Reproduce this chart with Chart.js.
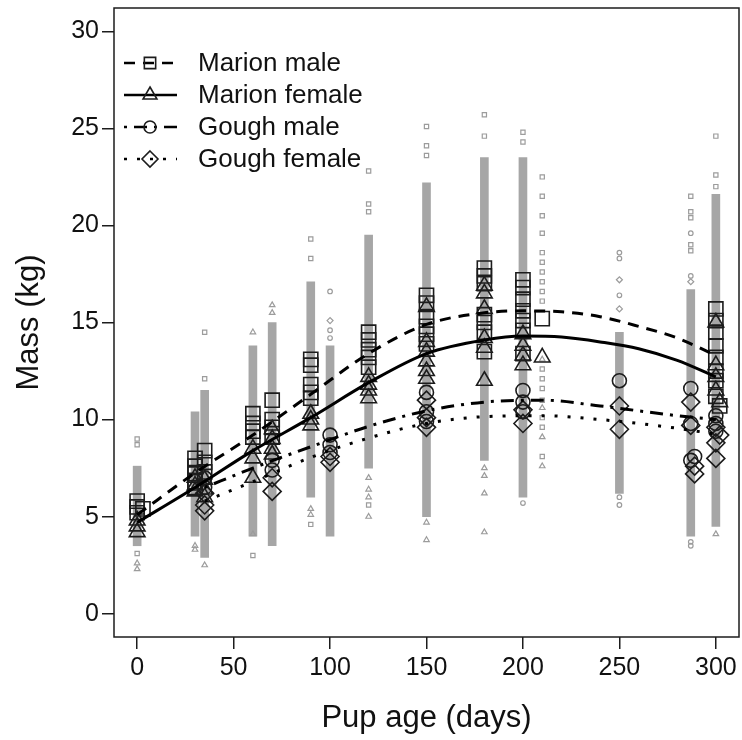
<!DOCTYPE html>
<html>
<head>
<meta charset="utf-8">
<script src="https://cdn.jsdelivr.net/npm/chart.js@4.4.1/dist/chart.umd.min.js"></script>
<style>
  html, body { margin: 0; padding: 0; background: #fff; }
  #wrap { width: 742px; height: 740px; }
</style>
</head>
<body>
<div id="wrap"><canvas id="massChart" width="742" height="740"></canvas></div>
<script>
// ---- values ----
const xTicks = [0, 50, 100, 150, 200, 250, 300];
const yTicks = [0, 5, 10, 15, 20, 25, 30];

// raw weighings: dense part of each age column (lowest / highest kg)
const rawAges = [0, 30, 35, 60, 70, 90, 100, 120, 150, 180, 200, 250, 287, 300];
const rawLow  = [3.5, 4.0, 2.9, 4.0, 3.5, 6.0, 4.0, 7.5, 5.0, 7.9, 6.0, 6.2, 4.0, 4.5];
const rawHigh = [7.6, 10.4, 11.5, 13.8, 15.0, 17.1, 13.8, 19.5, 22.2, 23.5, 23.5, 14.5, 16.7, 21.6];

// scattered raw weighings outside the dense part [age, kg]
const rawSquares = [[0, 9.0], [0, 8.7], [0, 3.1], [35, 14.5], [35, 12.1], [60, 3.0], [90, 19.3], [90, 18.3],
  [90, 4.6], [120, 22.8], [120, 21.1], [120, 20.7], [120, 5.6], [150, 25.1], [150, 24.1], [150, 23.6],
  [180, 25.7], [180, 24.6], [200, 24.8], [200, 24.3], [210, 22.5], [210, 21.5], [210, 20.5], [210, 19.6],
  [210, 18.6], [210, 18.1], [210, 17.6], [210, 17.1], [210, 16.6], [210, 16.1], [210, 12.6], [210, 12.1],
  [210, 11.6], [210, 11.0], [210, 10.1], [210, 9.6], [210, 8.1], [287, 21.5], [287, 20.7], [287, 20.4],
  [287, 19.0], [287, 18.7], [300, 24.6], [300, 22.6], [300, 22.0]];
const rawTriangles = [[0, 2.6], [0, 2.3], [30, 3.5], [30, 3.3], [35, 2.5], [60, 14.5], [60, 4.1], [70, 15.9],
  [70, 15.5], [90, 5.4], [90, 5.1], [120, 7.0], [120, 6.4], [120, 6.0], [120, 5.0], [150, 4.7], [150, 3.8],
  [180, 7.5], [180, 7.1], [180, 6.2], [180, 4.2], [210, 13.1], [210, 10.6], [210, 9.1], [210, 7.6], [300, 4.1]];
const rawCircles = [[100, 16.6], [100, 14.6], [100, 14.2], [200, 5.7], [250, 18.6], [250, 18.3], [250, 16.4],
  [250, 6.0], [250, 5.6], [287, 19.6], [287, 17.4], [287, 3.7], [287, 3.5]];
const rawDiamonds = [[100, 15.1], [250, 17.2], [250, 15.7], [287, 17.1]];

// cohort means [age, kg]
const marionMale = [[0, 5.8], [0, 5.5], [0, 5.2], [3, 5.4], [30, 8.0], [30, 7.6], [30, 7.2], [30, 6.8], [30, 6.5],
  [35, 8.4], [35, 7.8], [35, 7.3], [60, 10.3], [60, 9.8], [60, 9.4], [60, 9.1], [70, 11.0], [70, 10.0], [70, 9.6],
  [70, 9.1], [90, 13.1], [90, 12.8], [90, 11.8], [90, 11.4], [90, 11.1], [120, 14.5], [120, 14.1], [120, 13.6],
  [120, 13.2], [120, 12.7], [150, 16.4], [150, 16.0], [150, 15.3], [150, 14.8], [150, 14.4], [150, 13.9],
  [180, 17.8], [180, 17.4], [180, 17.0], [180, 15.4], [180, 15.0], [180, 14.5], [180, 13.5], [200, 17.2],
  [200, 16.8], [200, 16.2], [200, 15.6], [200, 15.1], [200, 14.6], [200, 13.4], [210, 15.2], [300, 15.7],
  [300, 15.1], [300, 14.5], [300, 13.8], [300, 13.2], [300, 12.5], [300, 12.0], [300, 11.2], [302, 10.7]];
const marionFemale = [[0, 4.8], [0, 4.5], [0, 4.2], [30, 7.0], [30, 6.6], [30, 6.3], [35, 6.9], [35, 6.4],
  [35, 6.0], [60, 8.5], [60, 8.0], [60, 7.0], [70, 9.5], [70, 9.0], [70, 8.5], [70, 8.2], [90, 10.3], [90, 10.0],
  [90, 9.7], [120, 12.2], [120, 11.8], [120, 11.5], [120, 11.1], [150, 15.8], [150, 14.0], [150, 13.5],
  [150, 13.0], [150, 12.5], [150, 12.1], [180, 16.9], [180, 16.5], [180, 15.7], [180, 14.2], [180, 13.7],
  [180, 12.0], [200, 14.4], [200, 13.8], [200, 13.3], [200, 12.8], [210, 13.2], [300, 15.0], [300, 12.8],
  [300, 12.2], [300, 11.5], [302, 10.9]];
const goughMale = [[35, 7.0], [35, 6.5], [70, 7.9], [70, 7.4], [100, 9.2], [100, 8.7], [100, 8.3], [150, 11.4],
  [150, 10.4], [150, 9.9], [200, 11.5], [200, 10.9], [200, 10.4], [250, 12.0], [287, 11.6], [287, 9.8],
  [289, 8.1], [287, 7.9], [300, 10.2], [300, 9.8], [300, 9.4]];
const goughFemale = [[35, 6.2], [35, 5.6], [35, 5.3], [70, 7.0], [70, 6.3], [100, 8.1], [100, 7.8], [150, 11.0],
  [150, 10.1], [150, 9.6], [200, 10.5], [200, 9.8], [250, 10.7], [250, 9.5], [287, 10.9], [287, 9.7],
  [289, 7.6], [289, 7.2], [300, 9.6], [300, 8.8], [300, 8.0], [302, 9.2]];

// fitted growth curves
const fitAgesMarion = [0, 30, 60, 90, 120, 150, 180, 200, 220, 240, 260, 280, 300];
const fitMarionMale = [5.1, 7.25, 9.2, 11.3, 13.4, 14.9, 15.5, 15.6, 15.55, 15.3, 14.8, 14.2, 13.3];
const fitMarionFemale = [4.7, 6.5, 8.4, 10.1, 11.9, 13.4, 14.1, 14.3, 14.25, 14.0, 13.65, 13.05, 12.2];
const fitAgesGough = [35, 60, 90, 120, 150, 180, 210, 240, 260, 280, 300];
const fitGoughMale = [6.5, 7.5, 8.6, 9.65, 10.45, 10.9, 11.0, 10.7, 10.45, 10.2, 10.0];
const fitGoughFemale = [5.8, 6.8, 8.05, 9.05, 9.8, 10.15, 10.2, 10.0, 9.8, 9.55, 9.25];

const FONT = '"Liberation Sans", Arial, Helvetica, sans-serif';
const INK = '#1c1c1c';
const GREY = '#9c9c9c';

const toPts = arr => arr.map(p => ({ x: p[0], y: p[1] }));
const curve = (ages, vals) => ages.map((a, i) => ({ x: a, y: vals[i] }));

const series = [
  { label: 'Marion male', style: 'rect', r: 10, dash: [11, 8], means: marionMale, ages: fitAgesMarion, fit: fitMarionMale },
  { label: 'Marion female', style: 'triangle', r: 9, dash: [], means: marionFemale, ages: fitAgesMarion, fit: fitMarionFemale },
  { label: 'Gough male', style: 'circle', r: 7, dash: [3, 7, 13, 7], means: goughMale, ages: fitAgesGough, fit: fitGoughMale },
  { label: 'Gough female', style: 'rectRot', r: 9, dash: [3, 10], means: goughFemale, ages: fitAgesGough, fit: fitGoughFemale }
];

function rawSet(pts, style, r) {
  return {
    type: 'scatter', data: toPts(pts), pointStyle: style, pointRadius: r,
    borderColor: GREY, backgroundColor: 'rgba(0,0,0,0)', borderWidth: 1.2, order: 4
  };
}

const datasets = [
  {
    type: 'bar',
    data: rawAges.map((a, i) => ({ x: a, y: [rawLow[i], rawHigh[i]] })),
    backgroundColor: '#a6a6a6', borderWidth: 0, barThickness: 8, order: 5
  },
  rawSet(rawSquares, 'rect', 3),
  rawSet(rawTriangles, 'triangle', 3.2),
  rawSet(rawCircles, 'circle', 2.3),
  rawSet(rawDiamonds, 'rectRot', 3)
];

series.forEach(s => {
  datasets.push({
    type: 'scatter', data: toPts(s.means), pointStyle: s.style, pointRadius: s.r,
    borderColor: INK, backgroundColor: 'rgba(0,0,0,0)', borderWidth: 1.6, order: 2
  });
  datasets.push({
    type: 'line', data: curve(s.ages, s.fit), showLine: true, pointRadius: 0,
    borderColor: '#000', borderWidth: 3, borderDash: s.dash, borderCapStyle: 'butt',
    cubicInterpolationMode: 'monotone', fill: false, order: 1
  });
});

function drawMarker(ctx, style, x, y, r) {
  ctx.beginPath();
  if (style === 'rect') {
    const s = r * Math.SQRT1_2;
    ctx.rect(x - s, y - s, 2 * s, 2 * s);
  } else if (style === 'triangle') {
    ctx.moveTo(x, y - r);
    ctx.lineTo(x + r * 0.866, y + r * 0.5);
    ctx.lineTo(x - r * 0.866, y + r * 0.5);
    ctx.closePath();
  } else if (style === 'circle') {
    ctx.arc(x, y, r, 0, Math.PI * 2);
  } else {
    ctx.moveTo(x, y - r);
    ctx.lineTo(x + r, y);
    ctx.lineTo(x, y + r);
    ctx.lineTo(x - r, y);
    ctx.closePath();
  }
  ctx.stroke();
}

const framePlugin = {
  id: 'frame',
  afterDatasetsDraw(chart) {
    const { ctx, chartArea: { left, top, right, bottom } } = chart;
    ctx.save();
    ctx.strokeStyle = INK;
    ctx.lineWidth = 1.5;
    ctx.strokeRect(left, top, right - left, bottom - top);
    ctx.restore();
  }
};

const legendPlugin = {
  id: 'rLegend',
  afterDraw(chart) {
    const ctx = chart.ctx;
    const rows = [63, 95, 127, 159];
    ctx.save();
    series.forEach((s, i) => {
      const y = rows[i];
      ctx.strokeStyle = '#000';
      ctx.lineWidth = 2.5;
      ctx.lineCap = 'butt';
      ctx.setLineDash(s.dash);
      ctx.beginPath();
      ctx.moveTo(124, y);
      ctx.lineTo(177, y);
      ctx.stroke();
      ctx.setLineDash([]);
      ctx.strokeStyle = INK;
      ctx.lineWidth = 1.6;
      drawMarker(ctx, s.style, 150, y, s.style === 'circle' ? 6 : 8);
      ctx.fillStyle = '#111';
      ctx.font = '26px ' + FONT;
      ctx.textBaseline = 'middle';
      ctx.fillText(s.label, 198, y + 1);
    });
    ctx.restore();
  }
};

const ctx = document.getElementById('massChart').getContext('2d');
new Chart(ctx, {
  type: 'scatter',
  data: { datasets: datasets },
  options: {
    responsive: false,
    animation: false,
    devicePixelRatio: 1,
    layout: { autoPadding: false, padding: { top: 8, right: 3, left: 0, bottom: 0 } },
    plugins: { legend: { display: false }, tooltip: { enabled: false } },
    scales: {
      x: {
        type: 'linear', min: -12, max: 312, offset: false,
        afterBuildTicks: s => { s.ticks = xTicks.map(v => ({ value: v })); },
        afterFit: s => { s.height = 103; s.paddingLeft = 0; s.paddingRight = 0; },
        grid: { drawOnChartArea: false, drawTicks: true, tickLength: 12, color: INK, lineWidth: 1.5, offset: false },
        border: { display: false },
        ticks: { font: { size: 25, family: FONT }, color: '#111', padding: 4, maxRotation: 0, autoSkip: false },
        title: { display: true, text: 'Pup age (days)', font: { size: 31, family: FONT }, color: '#111', padding: { top: 0, bottom: 3 } }
      },
      y: {
        type: 'linear', min: -1.2, max: 31.2,
        afterBuildTicks: s => { s.ticks = yTicks.map(v => ({ value: v })); },
        afterFit: s => { s.width = 114; s.paddingTop = 0; s.paddingBottom = 0; },
        grid: { drawOnChartArea: false, drawTicks: true, tickLength: 12, color: INK, lineWidth: 1.5 },
        border: { display: false },
        ticks: { font: { size: 25, family: FONT }, color: '#111', padding: 3 },
        title: { display: true, text: 'Mass (kg)', font: { size: 31, family: FONT }, color: '#111', padding: { top: 11, bottom: 0 } }
      }
    }
  },
  plugins: [framePlugin, legendPlugin]
});
</script>
</body>
</html>
